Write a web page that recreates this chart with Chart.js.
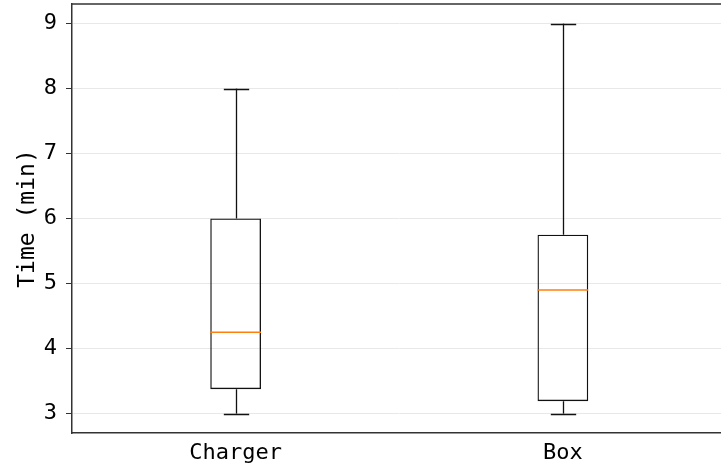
<!DOCTYPE html>
<html>
<head>
<meta charset="utf-8">
<script src="https://cdn.jsdelivr.net/npm/chart.js@4"></script>
<style>
  html, body { margin: 0; padding: 0; overflow: hidden; background: #fff; }
  canvas { display: block; }
</style>
</head>
<body>
<canvas id="c" width="730" height="469"></canvas>
<script>
const categories = ['Charger', 'Box'];
const whiskerLow = [3, 3];
const quartile1 = [3.375, 3.19];
const medians = [4.25, 4.9];
const quartile3 = [6, 5.75];
const whiskerHigh = [8, 9];
const yTicks = [3, 4, 5, 6, 7, 8, 9];

const FONT = '"DejaVu Sans Mono", monospace';

// whiskers, caps, medians and the top spine
const boxExtras = {
  id: 'boxExtras',
  afterDatasetsDraw(chart) {
    const ctx = chart.ctx;
    const y = chart.scales.y;
    const meta = chart.getDatasetMeta(0);
    ctx.save();
    meta.data.forEach((bar, i) => {
      const x = Math.round(bar.x) + 0.5;
      const w = bar.width;
      ctx.strokeStyle = '#111';
      ctx.lineWidth = 1.3;
      ctx.beginPath();
      ctx.moveTo(x, y.getPixelForValue(quartile3[i]));
      ctx.lineTo(x, y.getPixelForValue(whiskerHigh[i]));
      ctx.moveTo(x, y.getPixelForValue(quartile1[i]));
      ctx.lineTo(x, y.getPixelForValue(whiskerLow[i]));
      [whiskerHigh[i], whiskerLow[i]].forEach(v => {
        const py = Math.round(y.getPixelForValue(v)) + 0.5;
        ctx.moveTo(x - w / 4, py);
        ctx.lineTo(x + w / 4, py);
      });
      ctx.stroke();
      ctx.strokeStyle = '#ff7f0e';
      ctx.lineWidth = 1.5;
      ctx.beginPath();
      const my = y.getPixelForValue(medians[i]);
      ctx.moveTo(bar.x - w / 2, my);
      ctx.lineTo(bar.x + w / 2, my);
      ctx.stroke();
    });
    const a = chart.chartArea;
    ctx.strokeStyle = '#333';
    ctx.lineWidth = 1.5;
    ctx.beginPath();
    ctx.moveTo(a.left, a.top);
    ctx.lineTo(a.right, a.top);
    ctx.stroke();
    ctx.restore();
  }
};

new Chart(document.getElementById('c'), {
  type: 'bar',
  data: {
    labels: categories,
    datasets: [{
      data: quartile1.map((q, i) => [q, quartile3[i]]),
      backgroundColor: 'rgba(0,0,0,0)',
      borderColor: '#111',
      borderWidth: 1.3,
      borderSkipped: false,
      barPercentage: 0.155,
      categoryPercentage: 1
    }]
  },
  options: {
    responsive: false,
    animation: false,
    layout: { padding: { left: 0, top: 4, right: 3.5, bottom: 0 } },
    plugins: { legend: { display: false }, tooltip: { enabled: false } },
    scales: {
      x: {
        offset: true,
        grid: { display: false, drawTicks: true, tickLength: 6, tickColor: '#333' },
        border: { color: '#333', width: 1.5 },
        ticks: { color: '#000', font: { family: FONT, size: 22 }, padding: 1 },
        afterFit(s) { s.height = 36; s.paddingLeft = 0; s.paddingRight = 0; }
      },
      y: {
        min: 2.7,
        max: 9.3,
        afterBuildTicks(s) { s.ticks = yTicks.map(v => ({ value: v })); },
        grid: { color: '#e8e8e8', tickLength: 6, tickColor: '#333' },
        border: { color: '#333', width: 1.5 },
        ticks: { color: '#000', font: { family: FONT, size: 22 }, padding: 9 },
        title: { display: true, text: 'Time (min)', color: '#000', font: { family: FONT, size: 23 }, padding: { top: 14, bottom: 0 } },
        afterFit(s) { s.width = 72; s.paddingTop = 0; s.paddingBottom = 0; }
      }
    }
  },
  plugins: [boxExtras]
});
</script>
</body>
</html>
